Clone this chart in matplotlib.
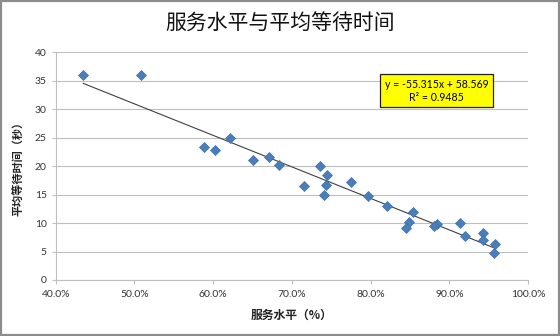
import matplotlib
matplotlib.use("Agg")
import matplotlib.pyplot as plt
from matplotlib.ticker import PercentFormatter, MultipleLocator
from matplotlib.patches import Rectangle
import numpy as np

plt.rcParams['font.family'] = ['Noto Sans CJK SC', 'DejaVu Sans']

title = "服务水平与平均等待时间"
xlabel = "服务水平（%）"
ylabel = "平均等待时间（秒）"

service_level = [0.435, 0.508, 0.621, 0.588, 0.602, 0.650, 0.671, 0.683,
                 0.736, 0.744, 0.715, 0.743, 0.741, 0.775, 0.797, 0.821,
                 0.854, 0.849, 0.845, 0.884, 0.880, 0.913, 0.920, 0.943,
                 0.943, 0.958, 0.957]
wait_time = [36.0, 35.9, 25.0, 23.4, 22.9, 21.0, 21.5, 20.2,
             20.0, 18.5, 16.5, 16.7, 14.9, 17.2, 14.7, 13.0,
             12.0, 10.1, 9.2, 9.9, 9.5, 10.0, 7.8, 8.2,
             7.0, 6.4, 4.7]

slope = -55.315
intercept = 58.569
r_squared = 0.9485

fig = plt.figure(figsize=(5.6, 3.36), dpi=100)
ax = fig.add_axes([0.0995, 0.1667, 0.8435, 0.6783])

ax.plot(service_level, wait_time, linestyle='none', marker='D', ms=5.3,
        color='#4A7EBB', markeredgecolor='#3F6FAA', markeredgewidth=0.5, zorder=3)

xs = np.array([min(service_level), max(service_level)])
ax.plot(xs, slope * xs + intercept, color='#404040', lw=0.8, zorder=2)

ax.set_xlim(0.4, 1.0)
ax.set_ylim(0, 40)
ax.xaxis.set_major_locator(MultipleLocator(0.1))
ax.yaxis.set_major_locator(MultipleLocator(5))
ax.xaxis.set_major_formatter(PercentFormatter(1.0, decimals=1))
ax.grid(axis='y', color='#BFBFBF', lw=0.8)
ax.set_axisbelow(True)
for s in ['top', 'right']:
    ax.spines[s].set_visible(False)
for s in ['left', 'bottom']:
    ax.spines[s].set_color('#BFBFBF')
    ax.spines[s].set_linewidth(0.8)
ax.tick_params(axis='both', colors='#BFBFBF', length=3, width=0.8,
               labelcolor='#333333', labelsize=7.5)
ax.tick_params(axis='x', pad=4.5)
for lab in ax.get_xticklabels() + ax.get_yticklabels():
    lab.set_family(['Lato', 'DejaVu Sans'])

ax.set_xlabel(xlabel, fontsize=8.5, fontweight='bold', color='#222222', labelpad=7)
ax.set_ylabel(ylabel, fontsize=8, fontweight='bold', color='#222222', labelpad=7)

fig.text(0.5, 0.929, title, ha='center', va='center', fontsize=15, color='#111111')

eq = f"y = {slope}x + {intercept}\nR² = {r_squared}"
ax.text(0.884, 33.2, eq, ha='center', va='center', fontsize=7.6,
        family=['Lato', 'DejaVu Sans'], linespacing=1.2,
        bbox=dict(boxstyle='square,pad=0.45', fc='#FFFF00', ec='#222222', lw=0.9), zorder=5)

fig.add_artist(Rectangle((0.002, 0.003), 0.996, 0.994, transform=fig.transFigure,
                         fill=False, ec='#8C8C8C', lw=1.6))

fig.savefig("out.png", dpi=100)
